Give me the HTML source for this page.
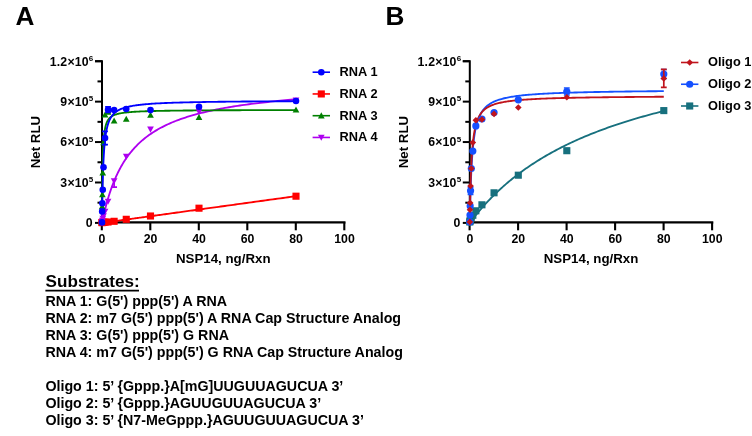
<!DOCTYPE html>
<html lang="en"><head><meta charset="utf-8"><title>Figure</title>
<style>html,body{margin:0;padding:0;background:#fff}svg{display:block}text{fill:#000}</style></head>
<body>
<svg width="752" height="436" viewBox="0 0 752 436">
<rect width="752" height="436" fill="#fff"/>
<g id="panelA">
<path d="M95.00 61.20H102.00V222.90" fill="none" stroke="#000" stroke-width="2" stroke-linejoin="miter"/>
<path d="M101.00 222.40H345.50" fill="none" stroke="#000" stroke-width="2.1"/>
<path d="M95.00 222.90H102.00" stroke="#000" stroke-width="2"/>
<path d="M97.50 202.69H102.00" stroke="#000" stroke-width="2"/>
<path d="M95.00 182.48H102.00" stroke="#000" stroke-width="2"/>
<path d="M97.50 162.26H102.00" stroke="#000" stroke-width="2"/>
<path d="M95.00 142.05H102.00" stroke="#000" stroke-width="2"/>
<path d="M97.50 121.84H102.00" stroke="#000" stroke-width="2"/>
<path d="M95.00 101.63H102.00" stroke="#000" stroke-width="2"/>
<path d="M97.50 81.41H102.00" stroke="#000" stroke-width="2"/>
<path d="M95.00 61.20H102.00" stroke="#000" stroke-width="2"/>
<text x="92.50" y="227.25" text-anchor="end" font-size="12.3" font-family="Liberation Sans, Arial, sans-serif" font-weight="bold">0</text>
<text x="93.50" y="186.83" text-anchor="end" font-size="12.3" letter-spacing="0.2" font-family="Liberation Sans, Arial, sans-serif" font-weight="bold">3×10<tspan dy="-4.5" font-size="8">5</tspan></text>
<text x="93.50" y="146.40" text-anchor="end" font-size="12.3" letter-spacing="0.2" font-family="Liberation Sans, Arial, sans-serif" font-weight="bold">6×10<tspan dy="-4.5" font-size="8">5</tspan></text>
<text x="93.50" y="105.98" text-anchor="end" font-size="12.3" letter-spacing="0.2" font-family="Liberation Sans, Arial, sans-serif" font-weight="bold">9×10<tspan dy="-4.5" font-size="8">5</tspan></text>
<text x="93.50" y="65.55" text-anchor="end" font-size="12.3" letter-spacing="0.2" font-family="Liberation Sans, Arial, sans-serif" font-weight="bold">1.2×10<tspan dy="-4.5" font-size="8">6</tspan></text>
<path d="M101.80 222.40V230.30" stroke="#000" stroke-width="2.1"/>
<text x="102.00" y="243.4" text-anchor="middle" font-size="12.3" font-family="Liberation Sans, Arial, sans-serif" font-weight="bold">0</text>
<path d="M150.30 222.40V230.30" stroke="#000" stroke-width="2.1"/>
<text x="150.50" y="243.4" text-anchor="middle" font-size="12.3" font-family="Liberation Sans, Arial, sans-serif" font-weight="bold">20</text>
<path d="M198.80 222.40V230.30" stroke="#000" stroke-width="2.1"/>
<text x="199.00" y="243.4" text-anchor="middle" font-size="12.3" font-family="Liberation Sans, Arial, sans-serif" font-weight="bold">40</text>
<path d="M247.30 222.40V230.30" stroke="#000" stroke-width="2.1"/>
<text x="247.50" y="243.4" text-anchor="middle" font-size="12.3" font-family="Liberation Sans, Arial, sans-serif" font-weight="bold">60</text>
<path d="M295.80 222.40V230.30" stroke="#000" stroke-width="2.1"/>
<text x="296.00" y="243.4" text-anchor="middle" font-size="12.3" font-family="Liberation Sans, Arial, sans-serif" font-weight="bold">80</text>
<path d="M344.30 222.40V230.30" stroke="#000" stroke-width="2.1"/>
<text x="344.50" y="243.4" text-anchor="middle" font-size="12.3" font-family="Liberation Sans, Arial, sans-serif" font-weight="bold">100</text>
<text x="223.25" y="263.3" text-anchor="middle" font-size="13.3" font-family="Liberation Sans, Arial, sans-serif" font-weight="bold">NSP14, ng/Rxn</text>
<text transform="translate(40.40 142.05) rotate(-90)" text-anchor="middle" font-size="13.3" font-family="Liberation Sans, Arial, sans-serif" font-weight="bold">Net RLU</text>
<text x="15.5" y="25.4" font-size="26.2" font-family="Liberation Sans, Arial, sans-serif" font-weight="bold">A</text>
<path d="M102.00 222.90 L102.00 222.90 L102.01 222.90 L102.03 222.90 L102.06 222.89 L102.09 222.89 L102.14 222.88 L102.20 222.87 L102.27 222.86 L102.35 222.85 L102.44 222.84 L102.54 222.83 L102.65 222.81 L102.78 222.79 L102.91 222.77 L103.06 222.75 L103.22 222.73 L103.40 222.71 L103.59 222.68 L103.79 222.65 L104.00 222.62 L104.23 222.59 L104.47 222.56 L104.72 222.53 L104.99 222.49 L105.27 222.45 L105.56 222.41 L105.87 222.37 L106.19 222.32 L106.53 222.28 L106.88 222.23 L107.24 222.18 L107.62 222.12 L108.02 222.07 L108.43 222.01 L108.85 221.96 L109.29 221.90 L109.74 221.83 L110.21 221.77 L110.69 221.70 L111.19 221.63 L111.70 221.56 L112.23 221.49 L112.77 221.42 L113.33 221.34 L113.91 221.26 L114.50 221.18 L115.10 221.09 L115.72 221.01 L116.36 220.92 L117.01 220.83 L117.68 220.74 L118.37 220.64 L119.07 220.55 L119.78 220.45 L120.52 220.35 L121.26 220.25 L122.03 220.14 L122.81 220.03 L123.61 219.92 L124.42 219.81 L125.25 219.70 L126.10 219.58 L126.96 219.46 L127.84 219.34 L128.74 219.22 L129.65 219.09 L130.58 218.96 L131.53 218.83 L132.49 218.70 L133.47 218.56 L134.47 218.43 L135.49 218.29 L136.52 218.14 L137.57 218.00 L138.63 217.85 L139.72 217.70 L140.82 217.55 L141.93 217.40 L143.07 217.24 L144.22 217.08 L145.39 216.92 L146.58 216.76 L147.78 216.59 L149.01 216.42 L150.25 216.25 L151.50 216.08 L152.78 215.90 L154.07 215.72 L155.38 215.54 L156.71 215.36 L158.06 215.18 L159.42 214.99 L160.80 214.80 L162.20 214.60 L163.62 214.41 L165.06 214.21 L166.51 214.01 L167.98 213.81 L169.47 213.60 L170.98 213.39 L172.51 213.18 L174.05 212.97 L175.62 212.76 L177.20 212.54 L178.80 212.32 L180.42 212.09 L182.05 211.87 L183.71 211.64 L185.38 211.41 L187.07 211.18 L188.79 210.94 L190.52 210.70 L192.26 210.46 L194.03 210.22 L195.82 209.97 L197.62 209.72 L199.44 209.47 L201.28 209.22 L203.14 208.96 L205.02 208.70 L206.92 208.44 L208.84 208.18 L210.77 207.91 L212.73 207.64 L214.70 207.37 L216.70 207.09 L218.71 206.82 L220.74 206.54 L222.79 206.25 L224.86 205.97 L226.95 205.68 L229.06 205.39 L231.18 205.10 L233.33 204.80 L235.50 204.50 L237.68 204.20 L239.89 203.90 L242.11 203.59 L244.35 203.28 L246.62 202.97 L248.90 202.66 L251.20 202.34 L253.52 202.02 L255.86 201.70 L258.22 201.37 L260.60 201.04 L263.00 200.71 L265.42 200.38 L267.86 200.04 L270.32 199.70 L272.80 199.36 L275.30 199.02 L277.82 198.67 L280.35 198.32 L282.91 197.97 L285.49 197.61 L288.09 197.26 L290.70 196.90 L293.34 196.53 L296.00 196.17" fill="none" stroke="#ff0000" stroke-width="1.85" stroke-linejoin="round" stroke-linecap="butt"/>
<path d="M102.00 222.90 L102.00 222.89 L102.01 222.84 L102.03 222.75 L102.06 222.62 L102.09 222.44 L102.14 222.21 L102.20 221.94 L102.27 221.61 L102.35 221.23 L102.44 220.81 L102.54 220.33 L102.65 219.79 L102.78 219.21 L102.91 218.58 L103.06 217.89 L103.22 217.16 L103.40 216.38 L103.59 215.55 L103.79 214.68 L104.00 213.76 L104.23 212.80 L104.47 211.79 L104.72 210.75 L104.99 209.67 L105.27 208.55 L105.56 207.40 L105.87 206.21 L106.19 205.00 L106.53 203.75 L106.88 202.48 L107.24 201.19 L107.62 199.87 L108.02 198.54 L108.43 197.18 L108.85 195.81 L109.29 194.43 L109.74 193.03 L110.21 191.62 L110.69 190.21 L111.19 188.78 L111.70 187.35 L112.23 185.92 L112.77 184.49 L113.33 183.05 L113.91 181.62 L114.50 180.19 L115.10 178.76 L115.72 177.34 L116.36 175.93 L117.01 174.52 L117.68 173.12 L118.37 171.73 L119.07 170.35 L119.78 168.98 L120.52 167.62 L121.26 166.27 L122.03 164.94 L122.81 163.63 L123.61 162.32 L124.42 161.03 L125.25 159.76 L126.10 158.50 L126.96 157.26 L127.84 156.03 L128.74 154.82 L129.65 153.63 L130.58 152.46 L131.53 151.30 L132.49 150.16 L133.47 149.03 L134.47 147.93 L135.49 146.84 L136.52 145.77 L137.57 144.71 L138.63 143.67 L139.72 142.65 L140.82 141.65 L141.93 140.66 L143.07 139.69 L144.22 138.74 L145.39 137.81 L146.58 136.89 L147.78 135.98 L149.01 135.10 L150.25 134.22 L151.50 133.37 L152.78 132.53 L154.07 131.70 L155.38 130.89 L156.71 130.10 L158.06 129.32 L159.42 128.55 L160.80 127.80 L162.20 127.06 L163.62 126.34 L165.06 125.63 L166.51 124.93 L167.98 124.25 L169.47 123.58 L170.98 122.92 L172.51 122.27 L174.05 121.64 L175.62 121.01 L177.20 120.40 L178.80 119.80 L180.42 119.22 L182.05 118.64 L183.71 118.07 L185.38 117.52 L187.07 116.97 L188.79 116.44 L190.52 115.91 L192.26 115.40 L194.03 114.89 L195.82 114.40 L197.62 113.91 L199.44 113.43 L201.28 112.96 L203.14 112.50 L205.02 112.05 L206.92 111.61 L208.84 111.17 L210.77 110.74 L212.73 110.32 L214.70 109.91 L216.70 109.51 L218.71 109.11 L220.74 108.72 L222.79 108.34 L224.86 107.96 L226.95 107.59 L229.06 107.23 L231.18 106.87 L233.33 106.52 L235.50 106.18 L237.68 105.84 L239.89 105.51 L242.11 105.19 L244.35 104.87 L246.62 104.55 L248.90 104.24 L251.20 103.94 L253.52 103.64 L255.86 103.35 L258.22 103.06 L260.60 102.78 L263.00 102.50 L265.42 102.23 L267.86 101.96 L270.32 101.69 L272.80 101.43 L275.30 101.18 L277.82 100.93 L280.35 100.68 L282.91 100.44 L285.49 100.20 L288.09 99.96 L290.70 99.73 L293.34 99.51 L296.00 99.28" fill="none" stroke="#ae00f0" stroke-width="1.85" stroke-linejoin="round" stroke-linecap="butt"/>
<path d="M102.00 222.90 L102.00 222.39 L102.01 220.59 L102.03 217.43 L102.06 213.02 L102.09 207.60 L102.14 201.48 L102.20 194.97 L102.27 188.35 L102.35 181.83 L102.44 175.60 L102.54 169.74 L102.65 164.33 L102.78 159.38 L102.91 154.89 L103.06 150.84 L103.22 147.20 L103.40 143.94 L103.59 141.01 L103.79 138.39 L104.00 136.04 L104.23 133.93 L104.47 132.04 L104.72 130.34 L104.99 128.81 L105.27 127.42 L105.56 126.17 L105.87 125.04 L106.19 124.01 L106.53 123.07 L106.88 122.22 L107.24 121.44 L107.62 120.72 L108.02 120.07 L108.43 119.47 L108.85 118.91 L109.29 118.40 L109.74 117.93 L110.21 117.49 L110.69 117.09 L111.19 116.72 L111.70 116.37 L112.23 116.04 L112.77 115.74 L113.33 115.46 L113.91 115.19 L114.50 114.95 L115.10 114.72 L115.72 114.50 L116.36 114.29 L117.01 114.10 L117.68 113.92 L118.37 113.75 L119.07 113.59 L119.78 113.44 L120.52 113.30 L121.26 113.16 L122.03 113.04 L122.81 112.91 L123.61 112.80 L124.42 112.69 L125.25 112.59 L126.10 112.49 L126.96 112.39 L127.84 112.30 L128.74 112.22 L129.65 112.14 L130.58 112.06 L131.53 111.99 L132.49 111.92 L133.47 111.85 L134.47 111.78 L135.49 111.72 L136.52 111.66 L137.57 111.61 L138.63 111.55 L139.72 111.50 L140.82 111.45 L141.93 111.40 L143.07 111.36 L144.22 111.31 L145.39 111.27 L146.58 111.23 L147.78 111.19 L149.01 111.15 L150.25 111.11 L151.50 111.08 L152.78 111.05 L154.07 111.01 L155.38 110.98 L156.71 110.95 L158.06 110.92 L159.42 110.89 L160.80 110.87 L162.20 110.84 L163.62 110.81 L165.06 110.79 L166.51 110.76 L167.98 110.74 L169.47 110.72 L170.98 110.70 L172.51 110.67 L174.05 110.65 L175.62 110.63 L177.20 110.62 L178.80 110.60 L180.42 110.58 L182.05 110.56 L183.71 110.54 L185.38 110.53 L187.07 110.51 L188.79 110.50 L190.52 110.48 L192.26 110.47 L194.03 110.45 L195.82 110.44 L197.62 110.42 L199.44 110.41 L201.28 110.40 L203.14 110.38 L205.02 110.37 L206.92 110.36 L208.84 110.35 L210.77 110.34 L212.73 110.33 L214.70 110.32 L216.70 110.31 L218.71 110.29 L220.74 110.28 L222.79 110.28 L224.86 110.27 L226.95 110.26 L229.06 110.25 L231.18 110.24 L233.33 110.23 L235.50 110.22 L237.68 110.21 L239.89 110.21 L242.11 110.20 L244.35 110.19 L246.62 110.18 L248.90 110.18 L251.20 110.17 L253.52 110.16 L255.86 110.15 L258.22 110.15 L260.60 110.14 L263.00 110.13 L265.42 110.13 L267.86 110.12 L270.32 110.12 L272.80 110.11 L275.30 110.10 L277.82 110.10 L280.35 110.09 L282.91 110.09 L285.49 110.08 L288.09 110.08 L290.70 110.07 L293.34 110.07 L296.00 110.06" fill="none" stroke="#008000" stroke-width="1.85" stroke-linejoin="round" stroke-linecap="butt"/>
<path d="M102.00 222.90 L102.00 222.67 L102.01 221.85 L102.03 220.36 L102.06 218.20 L102.09 215.40 L102.14 212.03 L102.20 208.17 L102.27 203.92 L102.35 199.39 L102.44 194.66 L102.54 189.85 L102.65 185.03 L102.78 180.28 L102.91 175.64 L103.06 171.16 L103.22 166.87 L103.40 162.80 L103.59 158.95 L103.79 155.32 L104.00 151.92 L104.23 148.74 L104.47 145.78 L104.72 143.01 L104.99 140.45 L105.27 138.06 L105.56 135.84 L105.87 133.78 L106.19 131.87 L106.53 130.09 L106.88 128.44 L107.24 126.91 L107.62 125.48 L108.02 124.15 L108.43 122.91 L108.85 121.76 L109.29 120.68 L109.74 119.68 L110.21 118.74 L110.69 117.86 L111.19 117.04 L111.70 116.27 L112.23 115.55 L112.77 114.87 L113.33 114.23 L113.91 113.63 L114.50 113.07 L115.10 112.53 L115.72 112.03 L116.36 111.56 L117.01 111.11 L117.68 110.69 L118.37 110.29 L119.07 109.91 L119.78 109.55 L120.52 109.21 L121.26 108.89 L122.03 108.58 L122.81 108.29 L123.61 108.01 L124.42 107.75 L125.25 107.50 L126.10 107.26 L126.96 107.03 L127.84 106.81 L128.74 106.61 L129.65 106.41 L130.58 106.22 L131.53 106.04 L132.49 105.86 L133.47 105.70 L134.47 105.54 L135.49 105.38 L136.52 105.24 L137.57 105.10 L138.63 104.96 L139.72 104.83 L140.82 104.71 L141.93 104.59 L143.07 104.47 L144.22 104.36 L145.39 104.26 L146.58 104.15 L147.78 104.05 L149.01 103.96 L150.25 103.87 L151.50 103.78 L152.78 103.69 L154.07 103.61 L155.38 103.53 L156.71 103.45 L158.06 103.38 L159.42 103.31 L160.80 103.24 L162.20 103.17 L163.62 103.11 L165.06 103.04 L166.51 102.98 L167.98 102.92 L169.47 102.87 L170.98 102.81 L172.51 102.76 L174.05 102.70 L175.62 102.65 L177.20 102.61 L178.80 102.56 L180.42 102.51 L182.05 102.47 L183.71 102.42 L185.38 102.38 L187.07 102.34 L188.79 102.30 L190.52 102.26 L192.26 102.22 L194.03 102.19 L195.82 102.15 L197.62 102.12 L199.44 102.08 L201.28 102.05 L203.14 102.02 L205.02 101.99 L206.92 101.95 L208.84 101.93 L210.77 101.90 L212.73 101.87 L214.70 101.84 L216.70 101.81 L218.71 101.79 L220.74 101.76 L222.79 101.74 L224.86 101.71 L226.95 101.69 L229.06 101.67 L231.18 101.64 L233.33 101.62 L235.50 101.60 L237.68 101.58 L239.89 101.56 L242.11 101.54 L244.35 101.52 L246.62 101.50 L248.90 101.48 L251.20 101.46 L253.52 101.44 L255.86 101.43 L258.22 101.41 L260.60 101.39 L263.00 101.38 L265.42 101.36 L267.86 101.34 L270.32 101.33 L272.80 101.31 L275.30 101.30 L277.82 101.28 L280.35 101.27 L282.91 101.26 L285.49 101.24 L288.09 101.23 L290.70 101.22 L293.34 101.20 L296.00 101.19" fill="none" stroke="#0000ff" stroke-width="1.85" stroke-linejoin="round" stroke-linecap="butt"/>
<rect x="98.45" y="219.05" width="7.10" height="7.10" fill="#ff0000"/>
<rect x="98.64" y="218.95" width="7.10" height="7.10" fill="#ff0000"/>
<rect x="98.83" y="218.95" width="7.10" height="7.10" fill="#ff0000"/>
<rect x="99.21" y="218.85" width="7.10" height="7.10" fill="#ff0000"/>
<rect x="99.97" y="218.75" width="7.10" height="7.10" fill="#ff0000"/>
<rect x="101.48" y="218.65" width="7.10" height="7.10" fill="#ff0000"/>
<rect x="104.51" y="218.45" width="7.10" height="7.10" fill="#ff0000"/>
<rect x="110.58" y="217.75" width="7.10" height="7.10" fill="#ff0000"/>
<rect x="122.70" y="215.75" width="7.10" height="7.10" fill="#ff0000"/>
<rect x="146.95" y="212.45" width="7.10" height="7.10" fill="#ff0000"/>
<rect x="195.45" y="204.65" width="7.10" height="7.10" fill="#ff0000"/>
<rect x="292.45" y="192.65" width="7.10" height="7.10" fill="#ff0000"/>
<path d="M102.00 225.75L105.35 219.72H98.65Z" fill="#ae00f0"/>
<path d="M102.19 224.85L105.54 218.82H98.84Z" fill="#ae00f0"/>
<path d="M102.38 223.85L105.73 217.82H99.03Z" fill="#ae00f0"/>
<path d="M102.76 221.85L106.11 215.82H99.41Z" fill="#ae00f0"/>
<path d="M103.52 219.35L106.87 213.32H100.17Z" fill="#ae00f0"/>
<path d="M105.03 214.75L108.38 208.72H101.68Z" fill="#ae00f0"/>
<path d="M108.06 204.75L111.41 198.72H104.71Z" fill="#ae00f0"/>
<path d="M114.12 180.90V187.10M111.22 187.10H117.03" stroke="#ae00f0" stroke-width="1.7" fill="none"/>
<path d="M114.12 184.25L117.47 178.22H110.78Z" fill="#ae00f0"/>
<path d="M126.25 159.85L129.60 153.82H122.90Z" fill="#ae00f0"/>
<path d="M150.50 132.65L153.85 126.62H147.15Z" fill="#ae00f0"/>
<path d="M199.00 114.95L202.35 108.92H195.65Z" fill="#ae00f0"/>
<path d="M296.00 103.55L299.35 97.52H292.65Z" fill="#ae00f0"/>
<path d="M102.00 219.05L105.35 225.08H98.65Z" fill="#008000"/>
<path d="M102.19 203.15L105.54 209.18H98.84Z" fill="#008000"/>
<path d="M102.38 191.15L105.73 197.18H99.03Z" fill="#008000"/>
<path d="M102.76 169.45L106.11 175.48H99.41Z" fill="#008000"/>
<path d="M103.52 139.15L106.87 145.18H100.17Z" fill="#008000"/>
<path d="M105.03 111.55L108.38 117.58H101.68Z" fill="#008000"/>
<path d="M108.06 108.65L111.41 114.68H104.71Z" fill="#008000"/>
<path d="M114.12 117.55L117.47 123.58H110.78Z" fill="#008000"/>
<path d="M126.25 115.75L129.60 121.78H122.90Z" fill="#008000"/>
<path d="M150.50 111.65L153.85 117.68H147.15Z" fill="#008000"/>
<path d="M199.00 113.95L202.35 119.98H195.65Z" fill="#008000"/>
<path d="M296.00 106.45L299.35 112.48H292.65Z" fill="#008000"/>
<circle cx="102.00" cy="222.40" r="3.30" fill="#0000ff"/>
<circle cx="102.19" cy="211.40" r="3.30" fill="#0000ff"/>
<circle cx="102.38" cy="203.30" r="3.30" fill="#0000ff"/>
<circle cx="102.76" cy="189.70" r="3.30" fill="#0000ff"/>
<circle cx="103.52" cy="167.20" r="3.30" fill="#0000ff"/>
<path d="M105.03 131.30V144.70M102.13 131.30H107.93M102.13 144.70H107.93" stroke="#0000ff" stroke-width="1.7" fill="none"/>
<circle cx="105.03" cy="138.00" r="3.30" fill="#0000ff"/>
<path d="M108.06 106.90V112.50M105.16 106.90H110.96M105.16 112.50H110.96" stroke="#0000ff" stroke-width="1.7" fill="none"/>
<circle cx="108.06" cy="109.70" r="3.30" fill="#0000ff"/>
<circle cx="114.12" cy="110.10" r="3.30" fill="#0000ff"/>
<circle cx="126.25" cy="109.00" r="3.30" fill="#0000ff"/>
<circle cx="150.50" cy="110.10" r="3.30" fill="#0000ff"/>
<circle cx="199.00" cy="106.70" r="3.30" fill="#0000ff"/>
<circle cx="296.00" cy="101.00" r="3.30" fill="#0000ff"/>
<path d="M312.60 72.20H330.00" stroke="#0000ff" stroke-width="1.6"/>
<circle cx="321.30" cy="72.20" r="3.30" fill="#0000ff"/>
<text x="339.60" y="76.05" font-size="12.8" font-family="Liberation Sans, Arial, sans-serif" font-weight="bold">RNA 1</text>
<path d="M312.60 93.95H330.00" stroke="#ff0000" stroke-width="1.6"/>
<rect x="317.75" y="90.40" width="7.10" height="7.10" fill="#ff0000"/>
<text x="339.60" y="97.80" font-size="12.8" font-family="Liberation Sans, Arial, sans-serif" font-weight="bold">RNA 2</text>
<path d="M312.60 115.70H330.00" stroke="#008000" stroke-width="1.6"/>
<path d="M321.30 112.35L324.65 118.38H317.95Z" fill="#008000"/>
<text x="339.60" y="119.55" font-size="12.8" font-family="Liberation Sans, Arial, sans-serif" font-weight="bold">RNA 3</text>
<path d="M312.60 137.45H330.00" stroke="#ae00f0" stroke-width="1.6"/>
<path d="M321.30 140.80L324.65 134.77H317.95Z" fill="#ae00f0"/>
<text x="339.60" y="141.30" font-size="12.8" font-family="Liberation Sans, Arial, sans-serif" font-weight="bold">RNA 4</text>
</g>
<g id="panelB">
<path d="M462.80 61.20H469.80V222.90" fill="none" stroke="#000" stroke-width="2" stroke-linejoin="miter"/>
<path d="M468.80 222.40H713.30" fill="none" stroke="#000" stroke-width="2.1"/>
<path d="M462.80 222.90H469.80" stroke="#000" stroke-width="2"/>
<path d="M465.30 202.69H469.80" stroke="#000" stroke-width="2"/>
<path d="M462.80 182.48H469.80" stroke="#000" stroke-width="2"/>
<path d="M465.30 162.26H469.80" stroke="#000" stroke-width="2"/>
<path d="M462.80 142.05H469.80" stroke="#000" stroke-width="2"/>
<path d="M465.30 121.84H469.80" stroke="#000" stroke-width="2"/>
<path d="M462.80 101.63H469.80" stroke="#000" stroke-width="2"/>
<path d="M465.30 81.41H469.80" stroke="#000" stroke-width="2"/>
<path d="M462.80 61.20H469.80" stroke="#000" stroke-width="2"/>
<text x="460.30" y="227.25" text-anchor="end" font-size="12.3" font-family="Liberation Sans, Arial, sans-serif" font-weight="bold">0</text>
<text x="461.30" y="186.83" text-anchor="end" font-size="12.3" letter-spacing="0.2" font-family="Liberation Sans, Arial, sans-serif" font-weight="bold">3×10<tspan dy="-4.5" font-size="8">5</tspan></text>
<text x="461.30" y="146.40" text-anchor="end" font-size="12.3" letter-spacing="0.2" font-family="Liberation Sans, Arial, sans-serif" font-weight="bold">6×10<tspan dy="-4.5" font-size="8">5</tspan></text>
<text x="461.30" y="105.98" text-anchor="end" font-size="12.3" letter-spacing="0.2" font-family="Liberation Sans, Arial, sans-serif" font-weight="bold">9×10<tspan dy="-4.5" font-size="8">5</tspan></text>
<text x="461.30" y="65.55" text-anchor="end" font-size="12.3" letter-spacing="0.2" font-family="Liberation Sans, Arial, sans-serif" font-weight="bold">1.2×10<tspan dy="-4.5" font-size="8">6</tspan></text>
<path d="M469.60 222.40V230.30" stroke="#000" stroke-width="2.1"/>
<text x="469.80" y="243.4" text-anchor="middle" font-size="12.3" font-family="Liberation Sans, Arial, sans-serif" font-weight="bold">0</text>
<path d="M518.10 222.40V230.30" stroke="#000" stroke-width="2.1"/>
<text x="518.30" y="243.4" text-anchor="middle" font-size="12.3" font-family="Liberation Sans, Arial, sans-serif" font-weight="bold">20</text>
<path d="M566.60 222.40V230.30" stroke="#000" stroke-width="2.1"/>
<text x="566.80" y="243.4" text-anchor="middle" font-size="12.3" font-family="Liberation Sans, Arial, sans-serif" font-weight="bold">40</text>
<path d="M615.10 222.40V230.30" stroke="#000" stroke-width="2.1"/>
<text x="615.30" y="243.4" text-anchor="middle" font-size="12.3" font-family="Liberation Sans, Arial, sans-serif" font-weight="bold">60</text>
<path d="M663.60 222.40V230.30" stroke="#000" stroke-width="2.1"/>
<text x="663.80" y="243.4" text-anchor="middle" font-size="12.3" font-family="Liberation Sans, Arial, sans-serif" font-weight="bold">80</text>
<path d="M712.10 222.40V230.30" stroke="#000" stroke-width="2.1"/>
<text x="712.30" y="243.4" text-anchor="middle" font-size="12.3" font-family="Liberation Sans, Arial, sans-serif" font-weight="bold">100</text>
<text x="591.05" y="263.3" text-anchor="middle" font-size="13.3" font-family="Liberation Sans, Arial, sans-serif" font-weight="bold">NSP14, ng/Rxn</text>
<text transform="translate(408.20 142.05) rotate(-90)" text-anchor="middle" font-size="13.3" font-family="Liberation Sans, Arial, sans-serif" font-weight="bold">Net RLU</text>
<text x="385.6" y="25.4" font-size="26.2" font-family="Liberation Sans, Arial, sans-serif" font-weight="bold">B</text>
<path d="M469.80 222.90 L469.80 222.90 L469.81 222.88 L469.83 222.86 L469.86 222.82 L469.89 222.77 L469.94 222.71 L470.00 222.63 L470.07 222.54 L470.15 222.44 L470.24 222.32 L470.34 222.18 L470.45 222.03 L470.58 221.87 L470.71 221.69 L470.86 221.49 L471.02 221.28 L471.20 221.05 L471.39 220.80 L471.59 220.54 L471.80 220.26 L472.03 219.97 L472.27 219.65 L472.52 219.33 L472.79 218.98 L473.07 218.62 L473.36 218.25 L473.67 217.86 L473.99 217.45 L474.33 217.02 L474.68 216.58 L475.04 216.13 L475.42 215.65 L475.82 215.17 L476.23 214.66 L476.65 214.14 L477.09 213.61 L477.54 213.06 L478.01 212.50 L478.49 211.92 L478.99 211.33 L479.50 210.72 L480.03 210.10 L480.57 209.47 L481.13 208.82 L481.71 208.16 L482.30 207.49 L482.90 206.81 L483.52 206.11 L484.16 205.40 L484.81 204.68 L485.48 203.94 L486.17 203.20 L486.87 202.44 L487.58 201.68 L488.32 200.90 L489.06 200.11 L489.83 199.32 L490.61 198.51 L491.41 197.70 L492.22 196.87 L493.05 196.04 L493.90 195.20 L494.76 194.35 L495.64 193.50 L496.54 192.63 L497.45 191.76 L498.38 190.89 L499.33 190.00 L500.29 189.12 L501.27 188.22 L502.27 187.32 L503.29 186.41 L504.32 185.50 L505.37 184.59 L506.43 183.67 L507.52 182.75 L508.62 181.82 L509.73 180.89 L510.87 179.96 L512.02 179.02 L513.19 178.08 L514.38 177.14 L515.58 176.20 L516.81 175.25 L518.05 174.31 L519.30 173.36 L520.58 172.41 L521.87 171.46 L523.18 170.51 L524.51 169.56 L525.86 168.61 L527.22 167.66 L528.60 166.71 L530.00 165.77 L531.42 164.82 L532.86 163.87 L534.31 162.92 L535.78 161.98 L537.27 161.04 L538.78 160.10 L540.31 159.16 L541.85 158.22 L543.42 157.28 L545.00 156.35 L546.60 155.42 L548.22 154.49 L549.85 153.57 L551.51 152.65 L553.18 151.73 L554.87 150.82 L556.59 149.90 L558.32 149.00 L560.06 148.09 L561.83 147.19 L563.62 146.30 L565.42 145.40 L567.24 144.51 L569.08 143.63 L570.94 142.75 L572.82 141.88 L574.72 141.00 L576.64 140.14 L578.57 139.28 L580.53 138.42 L582.50 137.57 L584.50 136.72 L586.51 135.88 L588.54 135.04 L590.59 134.21 L592.66 133.38 L594.75 132.56 L596.86 131.74 L598.98 130.93 L601.13 130.12 L603.30 129.32 L605.48 128.52 L607.69 127.73 L609.91 126.94 L612.15 126.16 L614.42 125.39 L616.70 124.62 L619.00 123.85 L621.32 123.10 L623.66 122.34 L626.02 121.59 L628.40 120.85 L630.80 120.12 L633.22 119.38 L635.66 118.66 L638.12 117.94 L640.60 117.22 L643.10 116.51 L645.62 115.81 L648.15 115.11 L650.71 114.42 L653.29 113.73 L655.89 113.05 L658.50 112.37 L661.14 111.70 L663.80 111.04" fill="none" stroke="#17707e" stroke-width="1.85" stroke-linejoin="round" stroke-linecap="butt"/>
<path d="M469.80 222.90 L469.80 222.75 L469.81 222.21 L469.83 221.23 L469.86 219.78 L469.89 217.88 L469.94 215.55 L470.00 212.80 L470.07 209.70 L470.15 206.28 L470.24 202.60 L470.34 198.72 L470.45 194.70 L470.58 190.59 L470.71 186.43 L470.86 182.27 L471.02 178.15 L471.20 174.10 L471.39 170.15 L471.59 166.31 L471.80 162.61 L472.03 159.05 L472.27 155.63 L472.52 152.38 L472.79 149.27 L473.07 146.33 L473.36 143.53 L473.67 140.89 L473.99 138.38 L474.33 136.02 L474.68 133.78 L475.04 131.68 L475.42 129.69 L475.82 127.81 L476.23 126.04 L476.65 124.38 L477.09 122.80 L477.54 121.32 L478.01 119.92 L478.49 118.60 L478.99 117.35 L479.50 116.17 L480.03 115.06 L480.57 114.01 L481.13 113.01 L481.71 112.07 L482.30 111.18 L482.90 110.33 L483.52 109.53 L484.16 108.77 L484.81 108.05 L485.48 107.36 L486.17 106.71 L486.87 106.09 L487.58 105.51 L488.32 104.95 L489.06 104.41 L489.83 103.90 L490.61 103.42 L491.41 102.96 L492.22 102.52 L493.05 102.10 L493.90 101.69 L494.76 101.31 L495.64 100.94 L496.54 100.59 L497.45 100.25 L498.38 99.93 L499.33 99.62 L500.29 99.32 L501.27 99.04 L502.27 98.77 L503.29 98.51 L504.32 98.25 L505.37 98.01 L506.43 97.78 L507.52 97.56 L508.62 97.34 L509.73 97.13 L510.87 96.94 L512.02 96.74 L513.19 96.56 L514.38 96.38 L515.58 96.21 L516.81 96.04 L518.05 95.88 L519.30 95.73 L520.58 95.58 L521.87 95.43 L523.18 95.29 L524.51 95.16 L525.86 95.03 L527.22 94.90 L528.60 94.78 L530.00 94.66 L531.42 94.55 L532.86 94.44 L534.31 94.33 L535.78 94.23 L537.27 94.13 L538.78 94.03 L540.31 93.93 L541.85 93.84 L543.42 93.75 L545.00 93.67 L546.60 93.58 L548.22 93.50 L549.85 93.42 L551.51 93.34 L553.18 93.27 L554.87 93.19 L556.59 93.12 L558.32 93.05 L560.06 92.99 L561.83 92.92 L563.62 92.86 L565.42 92.80 L567.24 92.74 L569.08 92.68 L570.94 92.62 L572.82 92.57 L574.72 92.51 L576.64 92.46 L578.57 92.41 L580.53 92.36 L582.50 92.31 L584.50 92.26 L586.51 92.21 L588.54 92.17 L590.59 92.12 L592.66 92.08 L594.75 92.04 L596.86 92.00 L598.98 91.96 L601.13 91.92 L603.30 91.88 L605.48 91.84 L607.69 91.80 L609.91 91.77 L612.15 91.73 L614.42 91.70 L616.70 91.66 L619.00 91.63 L621.32 91.60 L623.66 91.57 L626.02 91.54 L628.40 91.51 L630.80 91.48 L633.22 91.45 L635.66 91.42 L638.12 91.39 L640.60 91.37 L643.10 91.34 L645.62 91.31 L648.15 91.29 L650.71 91.26 L653.29 91.24 L655.89 91.21 L658.50 91.19 L661.14 91.17 L663.80 91.14" fill="none" stroke="#1450ff" stroke-width="1.85" stroke-linejoin="round" stroke-linecap="butt"/>
<path d="M469.80 222.90 L469.80 222.71 L469.81 222.02 L469.83 220.78 L469.86 218.97 L469.89 216.60 L469.94 213.71 L470.00 210.36 L470.07 206.63 L470.15 202.59 L470.24 198.31 L470.34 193.88 L470.45 189.37 L470.58 184.84 L470.71 180.36 L470.86 175.96 L471.02 171.67 L471.20 167.54 L471.39 163.58 L471.59 159.80 L471.80 156.21 L472.03 152.81 L472.27 149.61 L472.52 146.59 L472.79 143.76 L473.07 141.10 L473.36 138.60 L473.67 136.27 L473.99 134.09 L474.33 132.05 L474.68 130.14 L475.04 128.35 L475.42 126.68 L475.82 125.11 L476.23 123.65 L476.65 122.28 L477.09 120.99 L477.54 119.79 L478.01 118.66 L478.49 117.60 L478.99 116.60 L479.50 115.66 L480.03 114.78 L480.57 113.95 L481.13 113.17 L481.71 112.43 L482.30 111.74 L482.90 111.08 L483.52 110.46 L484.16 109.88 L484.81 109.32 L485.48 108.80 L486.17 108.30 L486.87 107.82 L487.58 107.38 L488.32 106.95 L489.06 106.55 L489.83 106.16 L490.61 105.80 L491.41 105.45 L492.22 105.12 L493.05 104.80 L493.90 104.50 L494.76 104.21 L495.64 103.93 L496.54 103.67 L497.45 103.42 L498.38 103.18 L499.33 102.95 L500.29 102.73 L501.27 102.52 L502.27 102.32 L503.29 102.12 L504.32 101.93 L505.37 101.76 L506.43 101.58 L507.52 101.42 L508.62 101.26 L509.73 101.11 L510.87 100.96 L512.02 100.82 L513.19 100.68 L514.38 100.55 L515.58 100.43 L516.81 100.30 L518.05 100.19 L519.30 100.07 L520.58 99.96 L521.87 99.86 L523.18 99.76 L524.51 99.66 L525.86 99.56 L527.22 99.47 L528.60 99.38 L530.00 99.30 L531.42 99.21 L532.86 99.13 L534.31 99.05 L535.78 98.98 L537.27 98.90 L538.78 98.83 L540.31 98.76 L541.85 98.70 L543.42 98.63 L545.00 98.57 L546.60 98.51 L548.22 98.45 L549.85 98.39 L551.51 98.33 L553.18 98.28 L554.87 98.23 L556.59 98.18 L558.32 98.13 L560.06 98.08 L561.83 98.03 L563.62 97.98 L565.42 97.94 L567.24 97.89 L569.08 97.85 L570.94 97.81 L572.82 97.77 L574.72 97.73 L576.64 97.69 L578.57 97.66 L580.53 97.62 L582.50 97.58 L584.50 97.55 L586.51 97.52 L588.54 97.48 L590.59 97.45 L592.66 97.42 L594.75 97.39 L596.86 97.36 L598.98 97.33 L601.13 97.30 L603.30 97.27 L605.48 97.25 L607.69 97.22 L609.91 97.19 L612.15 97.17 L614.42 97.14 L616.70 97.12 L619.00 97.09 L621.32 97.07 L623.66 97.05 L626.02 97.03 L628.40 97.00 L630.80 96.98 L633.22 96.96 L635.66 96.94 L638.12 96.92 L640.60 96.90 L643.10 96.88 L645.62 96.87 L648.15 96.85 L650.71 96.83 L653.29 96.81 L655.89 96.79 L658.50 96.78 L661.14 96.76 L663.80 96.74" fill="none" stroke="#c0141c" stroke-width="1.85" stroke-linejoin="round" stroke-linecap="butt"/>
<rect x="466.25" y="218.45" width="7.10" height="7.10" fill="#17707e"/>
<rect x="466.44" y="217.75" width="7.10" height="7.10" fill="#17707e"/>
<rect x="466.63" y="216.95" width="7.10" height="7.10" fill="#17707e"/>
<rect x="467.01" y="215.45" width="7.10" height="7.10" fill="#17707e"/>
<rect x="467.77" y="213.75" width="7.10" height="7.10" fill="#17707e"/>
<rect x="469.28" y="211.75" width="7.10" height="7.10" fill="#17707e"/>
<rect x="472.31" y="207.25" width="7.10" height="7.10" fill="#17707e"/>
<rect x="478.38" y="201.25" width="7.10" height="7.10" fill="#17707e"/>
<rect x="490.50" y="189.25" width="7.10" height="7.10" fill="#17707e"/>
<rect x="514.75" y="171.65" width="7.10" height="7.10" fill="#17707e"/>
<rect x="563.25" y="147.15" width="7.10" height="7.10" fill="#17707e"/>
<rect x="660.25" y="107.05" width="7.10" height="7.10" fill="#17707e"/>
<circle cx="469.80" cy="221.90" r="3.60" fill="#1450ff"/>
<circle cx="469.99" cy="215.00" r="3.60" fill="#1450ff"/>
<circle cx="470.18" cy="206.00" r="3.60" fill="#1450ff"/>
<path d="M470.56 187.30V194.30M467.66 187.30H473.46M467.66 194.30H473.46" stroke="#1450ff" stroke-width="1.7" fill="none"/>
<circle cx="470.56" cy="190.80" r="3.60" fill="#1450ff"/>
<circle cx="471.32" cy="168.50" r="3.60" fill="#1450ff"/>
<circle cx="472.83" cy="151.10" r="3.60" fill="#1450ff"/>
<circle cx="475.86" cy="125.90" r="3.60" fill="#1450ff"/>
<circle cx="481.93" cy="119.00" r="3.60" fill="#1450ff"/>
<circle cx="494.05" cy="112.60" r="3.60" fill="#1450ff"/>
<circle cx="518.30" cy="99.80" r="3.60" fill="#1450ff"/>
<path d="M566.80 88.00V95.00M563.90 88.00H569.70M563.90 95.00H569.70" stroke="#1450ff" stroke-width="1.7" fill="none"/>
<circle cx="566.80" cy="91.50" r="3.60" fill="#1450ff"/>
<path d="M663.80 69.50V78.50M660.90 69.50H666.70M660.90 78.50H666.70" stroke="#1450ff" stroke-width="1.7" fill="none"/>
<circle cx="663.80" cy="74.00" r="3.60" fill="#1450ff"/>
<path d="M469.80 218.60L473.10 221.90L469.80 225.20L466.50 221.90Z" fill="#c0141c"/>
<path d="M469.99 206.50L473.29 209.80L469.99 213.10L466.69 209.80Z" fill="#c0141c"/>
<path d="M470.18 199.60L473.48 202.90L470.18 206.20L466.88 202.90Z" fill="#c0141c"/>
<path d="M470.56 182.70L473.86 186.00L470.56 189.30L467.26 186.00Z" fill="#c0141c"/>
<path d="M471.32 165.20L474.62 168.50L471.32 171.80L468.02 168.50Z" fill="#c0141c"/>
<path d="M472.83 139.30L476.13 142.60L472.83 145.90L469.53 142.60Z" fill="#c0141c"/>
<path d="M475.86 117.00L479.16 120.30L475.86 123.60L472.56 120.30Z" fill="#c0141c"/>
<path d="M481.93 116.20L485.23 119.50L481.93 122.80L478.62 119.50Z" fill="#c0141c"/>
<path d="M494.05 110.60L497.35 113.90L494.05 117.20L490.75 113.90Z" fill="#c0141c"/>
<path d="M518.30 104.20L521.60 107.50L518.30 110.80L515.00 107.50Z" fill="#c0141c"/>
<path d="M566.80 94.00L570.10 97.30L566.80 100.60L563.50 97.30Z" fill="#c0141c"/>
<path d="M663.80 69.40V87.40M660.90 69.40H666.70M660.90 87.40H666.70" stroke="#c0141c" stroke-width="1.7" fill="none"/>
<path d="M663.80 75.10L667.10 78.40L663.80 81.70L660.50 78.40Z" fill="#c0141c"/>
<path d="M681.00 62.50H698.40" stroke="#c0141c" stroke-width="1.6"/>
<path d="M689.70 59.20L693.00 62.50L689.70 65.80L686.40 62.50Z" fill="#c0141c"/>
<text x="708.00" y="66.35" font-size="12.8" font-family="Liberation Sans, Arial, sans-serif" font-weight="bold">Oligo 1</text>
<path d="M681.00 84.25H698.40" stroke="#1450ff" stroke-width="1.6"/>
<circle cx="689.70" cy="84.25" r="3.60" fill="#1450ff"/>
<text x="708.00" y="88.10" font-size="12.8" font-family="Liberation Sans, Arial, sans-serif" font-weight="bold">Oligo 2</text>
<path d="M681.00 106.00H698.40" stroke="#17707e" stroke-width="1.6"/>
<rect x="686.15" y="102.45" width="7.10" height="7.10" fill="#17707e"/>
<text x="708.00" y="109.85" font-size="12.8" font-family="Liberation Sans, Arial, sans-serif" font-weight="bold">Oligo 3</text>
</g>
<text x="45.6" y="287.2" font-size="17.1" font-family="Liberation Sans, Arial, sans-serif" font-weight="bold">Substrates:</text>
<path d="M45.4 290.6H139" stroke="#000" stroke-width="1.6"/>
<text x="45.4" y="305.6" font-size="14.25" font-family="Liberation Sans, Arial, sans-serif" font-weight="bold">RNA 1: G(5') ppp(5') A RNA</text>
<text x="45.4" y="322.6" font-size="14.25" font-family="Liberation Sans, Arial, sans-serif" font-weight="bold">RNA 2: m7 G(5') ppp(5') A RNA Cap Structure Analog</text>
<text x="45.4" y="339.6" font-size="14.25" font-family="Liberation Sans, Arial, sans-serif" font-weight="bold">RNA 3: G(5') ppp(5') G RNA</text>
<text x="45.4" y="356.6" font-size="14.25" font-family="Liberation Sans, Arial, sans-serif" font-weight="bold">RNA 4: m7 G(5') ppp(5') G RNA Cap Structure Analog</text>
<text x="45.4" y="390.6" font-size="14.25" font-family="Liberation Sans, Arial, sans-serif" font-weight="bold">Oligo 1: 5’ {Gppp.}A[mG]UUGUUAGUCUA 3’</text>
<text x="45.4" y="407.6" font-size="14.25" font-family="Liberation Sans, Arial, sans-serif" font-weight="bold">Oligo 2: 5’ {Gppp.}AGUUGUUAGUCUA 3’</text>
<text x="45.4" y="424.6" font-size="14.25" font-family="Liberation Sans, Arial, sans-serif" font-weight="bold">Oligo 3: 5’ {N7-MeGppp.}AGUUGUUAGUCUA 3’</text>
</svg>
</body></html>
